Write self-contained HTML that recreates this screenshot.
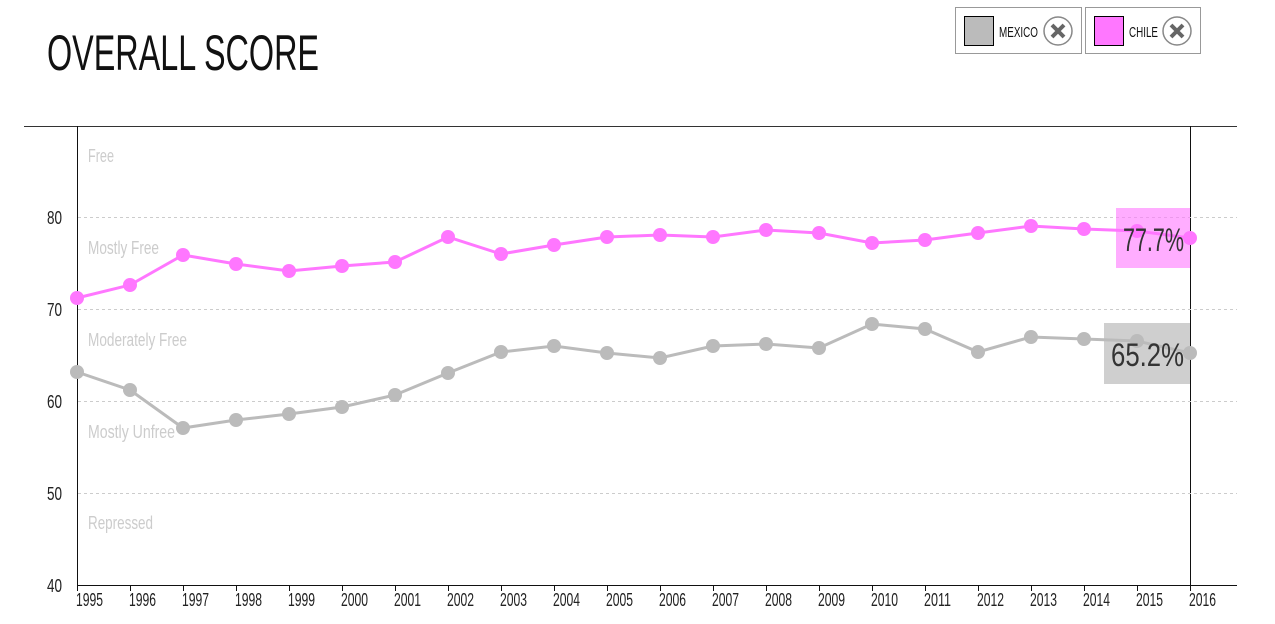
<!DOCTYPE html>
<html><head><style>
body{margin:0;background:#fff;width:1275px;height:619px;overflow:hidden;font-family:"Liberation Sans Narrow","Liberation Sans",sans-serif}
</style></head><body>
<svg width="1275" height="619" xmlns="http://www.w3.org/2000/svg" font-family="Liberation Sans Narrow, Liberation Sans, sans-serif">
<text x="47" y="70" font-size="50" fill="#111" textLength="272" lengthAdjust="spacingAndGlyphs">OVERALL SCORE</text>
<rect x="955.5" y="7.5" width="126" height="46" fill="#fff" stroke="#999"/>
<rect x="964.5" y="16.5" width="29" height="29" fill="#bbb" stroke="#000"/>
<text x="999" y="37" font-size="15" fill="#111" textLength="39" lengthAdjust="spacingAndGlyphs">MEXICO</text>
<circle cx="1058" cy="31" r="14" fill="#fff" stroke="#888" stroke-width="1.5"/>
<path d="M1052 25L1064 37M1064 25L1052 37" stroke="#666" stroke-width="4"/>
<rect x="1085.5" y="7.5" width="115" height="46" fill="#fff" stroke="#999"/>
<rect x="1094.5" y="16.5" width="29" height="29" fill="#ff77ff" stroke="#000"/>
<text x="1129" y="37" font-size="15" fill="#111" textLength="29" lengthAdjust="spacingAndGlyphs">CHILE</text>
<circle cx="1177" cy="31" r="14" fill="#fff" stroke="#888" stroke-width="1.5"/>
<path d="M1171 25L1183 37M1183 25L1171 37" stroke="#666" stroke-width="4"/>
<line x1="24" y1="126.5" x2="1237" y2="126.5" stroke="#333"/>
<line x1="77.5" y1="126" x2="77.5" y2="585" stroke="#111"/>
<line x1="1190.5" y1="126" x2="1190.5" y2="585" stroke="#111"/>
<line x1="77" y1="585.5" x2="1237" y2="585.5" stroke="#111"/>
<g stroke="#ccc" stroke-dasharray="3,3">
<line x1="78" y1="217.5" x2="1237" y2="217.5"/><line x1="78" y1="309.5" x2="1237" y2="309.5"/>
<line x1="78" y1="401.5" x2="1237" y2="401.5"/><line x1="78" y1="493.5" x2="1237" y2="493.5"/>
</g>
<g font-size="18" fill="#222" text-anchor="end">
<text x="62" y="224" textLength="15" lengthAdjust="spacingAndGlyphs">80</text><text x="62" y="316" textLength="15" lengthAdjust="spacingAndGlyphs">70</text><text x="62" y="408" textLength="15" lengthAdjust="spacingAndGlyphs">60</text><text x="62" y="500" textLength="15" lengthAdjust="spacingAndGlyphs">50</text><text x="62" y="592" textLength="15" lengthAdjust="spacingAndGlyphs">40</text>
</g>
<g font-size="18" fill="#ccc">
<text x="88" y="162" textLength="26" lengthAdjust="spacingAndGlyphs">Free</text>
<text x="88" y="254" textLength="71" lengthAdjust="spacingAndGlyphs">Mostly Free</text>
<text x="88" y="346" textLength="99" lengthAdjust="spacingAndGlyphs">Moderately Free</text>
<text x="88" y="438" textLength="87" lengthAdjust="spacingAndGlyphs">Mostly Unfree</text>
<text x="88" y="529" textLength="65" lengthAdjust="spacingAndGlyphs">Repressed</text>
</g>
<g id="ticks" stroke="#111"></g>
<g id="xl" font-size="18" fill="#222"></g>
<polyline id="mx" fill="none" stroke="#bbb" stroke-width="3"/>
<polyline id="cl" fill="none" stroke="#ff77ff" stroke-width="3"/>
<g id="dots"></g>
<rect x="1116" y="208" width="74" height="60" fill="#ff77ff" opacity="0.6"/>
<text x="1123" y="251" font-size="32" fill="#333" textLength="61" lengthAdjust="spacingAndGlyphs">77.7%</text>
<rect x="1104" y="323" width="86" height="61" fill="#bbb" opacity="0.7"/>
<text x="1111" y="366" font-size="32" fill="#333" textLength="73" lengthAdjust="spacingAndGlyphs">65.2%</text>
</svg>
<script>
var ns="http://www.w3.org/2000/svg";
var c=[298,285,255,264,271,266,262,237,254,245,237,235,237,230,233,243,240,233,226,229,231,238];
var m=[372,390,428,420,414,407,395,373,352,346,353,358,346,344,348,324,329,352,337,339,341,353];
function X(i){return 77+i*53;}
var t=document.getElementById('ticks'),xl=document.getElementById('xl'),d=document.getElementById('dots');
var pm=[],pc=[];
for(var i=0;i<22;i++){
 var l=document.createElementNS(ns,'line');l.setAttribute('x1',X(i)+.5);l.setAttribute('x2',X(i)+.5);l.setAttribute('y1',585);l.setAttribute('y2',591);t.appendChild(l);
 var tx=document.createElementNS(ns,'text');tx.setAttribute('x',X(i)-1);tx.setAttribute('y',606);tx.setAttribute('textLength',27);tx.setAttribute('lengthAdjust','spacingAndGlyphs');tx.textContent=1995+i;xl.appendChild(tx);
 pm.push(X(i)+','+m[i]);pc.push(X(i)+','+c[i]);
}
document.getElementById('mx').setAttribute('points',pm.join(' '));
document.getElementById('cl').setAttribute('points',pc.join(' '));
for(var i=0;i<22;i++){
 [[m,'#bbb'],[c,'#ff77ff']].forEach(function(s){var ci=document.createElementNS(ns,'circle');ci.setAttribute('cx',X(i));ci.setAttribute('cy',s[0][i]);ci.setAttribute('r',7);ci.setAttribute('fill',s[1]);d.appendChild(ci);});
}
</script>
</body></html>
